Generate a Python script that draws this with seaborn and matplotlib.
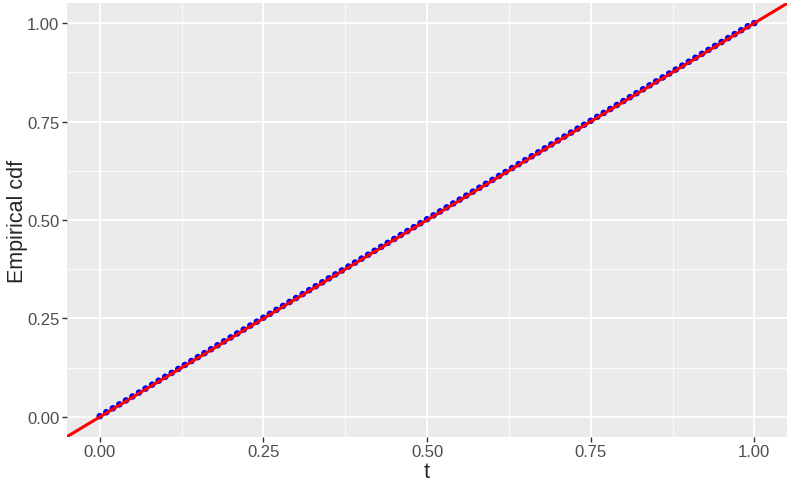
import numpy as np
import pandas as pd
import seaborn as sns
from matplotlib import pyplot as plt
from matplotlib.ticker import MultipleLocator

# grid of t values and the empirical cdf
t = [0.00, 0.01, 0.02, 0.03, 0.04, 0.05, 0.06, 0.07, 0.08, 0.09,
     0.10, 0.11, 0.12, 0.13, 0.14, 0.15, 0.16, 0.17, 0.18, 0.19,
     0.20, 0.21, 0.22, 0.23, 0.24, 0.25, 0.26, 0.27, 0.28, 0.29,
     0.30, 0.31, 0.32, 0.33, 0.34, 0.35, 0.36, 0.37, 0.38, 0.39,
     0.40, 0.41, 0.42, 0.43, 0.44, 0.45, 0.46, 0.47, 0.48, 0.49,
     0.50, 0.51, 0.52, 0.53, 0.54, 0.55, 0.56, 0.57, 0.58, 0.59,
     0.60, 0.61, 0.62, 0.63, 0.64, 0.65, 0.66, 0.67, 0.68, 0.69,
     0.70, 0.71, 0.72, 0.73, 0.74, 0.75, 0.76, 0.77, 0.78, 0.79,
     0.80, 0.81, 0.82, 0.83, 0.84, 0.85, 0.86, 0.87, 0.88, 0.89,
     0.90, 0.91, 0.92, 0.93, 0.94, 0.95, 0.96, 0.97, 0.98, 0.99, 1.00]
ecdf = [0.002, 0.012, 0.022, 0.032, 0.042, 0.052, 0.062, 0.072, 0.082, 0.092,
        0.102, 0.112, 0.122, 0.132, 0.142, 0.152, 0.162, 0.172, 0.182, 0.192,
        0.202, 0.212, 0.222, 0.232, 0.242, 0.252, 0.262, 0.272, 0.282, 0.292,
        0.302, 0.312, 0.322, 0.332, 0.342, 0.352, 0.362, 0.372, 0.382, 0.392,
        0.402, 0.412, 0.422, 0.432, 0.442, 0.452, 0.462, 0.472, 0.482, 0.492,
        0.502, 0.512, 0.522, 0.532, 0.542, 0.552, 0.562, 0.572, 0.582, 0.592,
        0.602, 0.612, 0.622, 0.632, 0.642, 0.652, 0.662, 0.672, 0.682, 0.692,
        0.702, 0.712, 0.722, 0.732, 0.742, 0.752, 0.762, 0.772, 0.782, 0.792,
        0.802, 0.812, 0.822, 0.832, 0.842, 0.852, 0.862, 0.872, 0.882, 0.892,
        0.902, 0.912, 0.922, 0.932, 0.942, 0.952, 0.962, 0.972, 0.982, 0.992, 1.000]
ticks = [0.00, 0.25, 0.50, 0.75, 1.00]
tick_labels = ["0.00", "0.25", "0.50", "0.75", "1.00"]

df = pd.DataFrame({'t': t, 'ecdf': ecdf})

sns.set_style("darkgrid", {'axes.facecolor': '#EBEBEB', 'grid.color': 'white'})
plt.rcParams['font.family'] = ['Liberation Sans', 'DejaVu Sans']

fig = plt.figure(figsize=(7.93, 4.89), dpi=100)
ax = fig.add_axes([0.0845, 0.105, 0.908, 0.886])

sns.scatterplot(data=df, x='t', y='ecdf', ax=ax, color='blue', s=22,
                edgecolor='none', zorder=3)
ax.axline((0, 0), slope=1, color='red', lw=2.2, zorder=4)

ax.set_xlim(-0.05, 1.05)
ax.set_ylim(-0.05, 1.05)
ax.set_xticks(ticks)
ax.set_xticklabels(tick_labels)
ax.set_yticks(ticks)
ax.set_yticklabels(tick_labels)
ax.xaxis.set_minor_locator(MultipleLocator(0.125))
ax.yaxis.set_minor_locator(MultipleLocator(0.125))
ax.grid(which='major', color='white', lw=1.3)
ax.grid(which='minor', color='white', lw=0.6)
for s in ax.spines.values():
    s.set_visible(False)
ax.tick_params(which='major', length=3.5, width=1, color='#333333',
               labelsize=12, labelcolor='#4D4D4D', pad=2, bottom=True, left=True)
ax.tick_params(which='minor', length=0)
ax.set_xlabel("t", fontsize=15.5, labelpad=1)
ax.set_ylabel("Empirical cdf", fontsize=15.5, labelpad=-1)

fig.savefig('out.png', dpi=100, facecolor='white')
